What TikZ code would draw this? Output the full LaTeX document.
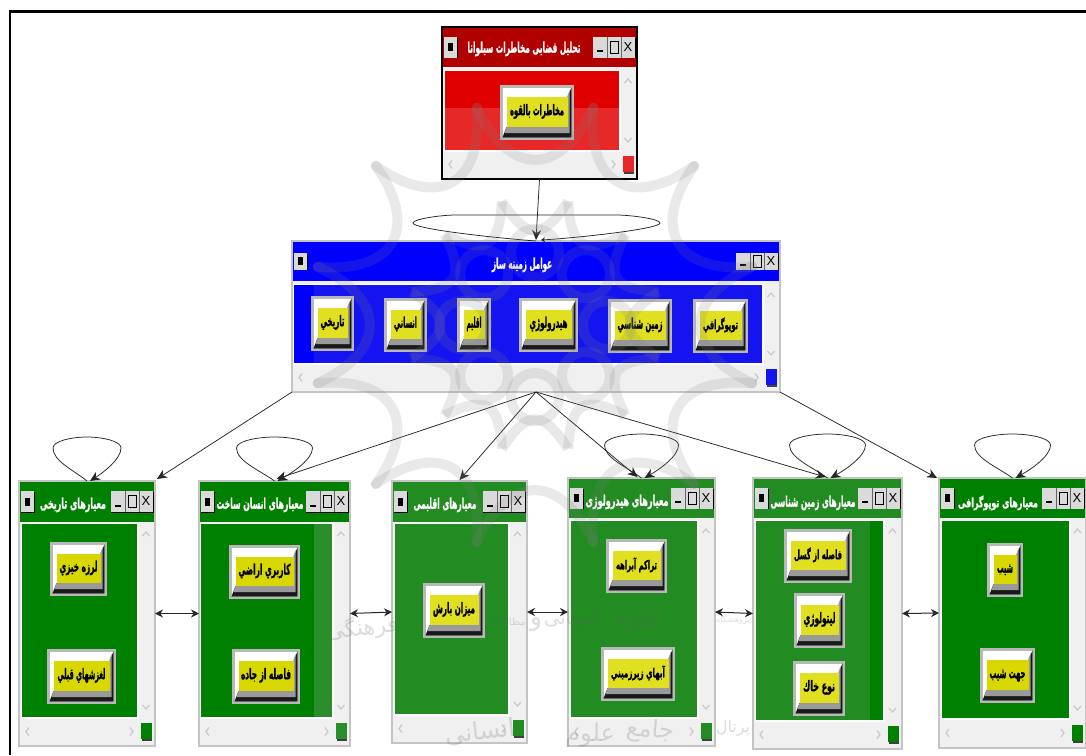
\documentclass[tikz,border=0pt]{standalone}
\usepackage{fontspec}
\usepackage{graphicx}
\usetikzlibrary{arrows.meta,calc}
\TeXXeTstate=1
\newfontfamily\arabicfont[Script=Arabic]{DejaVu Sans}
\newfontfamily\arabicheavy[Script=Arabic,FakeBold=1.6]{DejaVu Sans Bold}
\setsansfont{Liberation Sans}
\definecolor{winbg}{HTML}{F0F0F0}
\definecolor{winedge}{HTML}{C4C4C4}
\definecolor{tbtn}{HTML}{DADADA}
\definecolor{chev}{HTML}{C8C8C8}
\definecolor{gdark}{HTML}{008000}
\definecolor{glight}{HTML}{228B22}
\definecolor{gmid}{HTML}{2A8E2A}
\definecolor{rdark}{HTML}{B00000}
\definecolor{rmain}{HTML}{E00000}
\definecolor{rlight}{HTML}{E62828}
\definecolor{bmain}{HTML}{0000FF}
\definecolor{bsoft}{HTML}{1414F0}
\definecolor{ypure}{HTML}{D8D800}
\definecolor{ysoft}{HTML}{E0E020}
\definecolor{btnedge}{HTML}{B8B8B8}
\definecolor{btnband}{HTML}{9A9A9A}
\newcount\nodeno
\newcommand\bump{\global\advance\nodeno by 1 }
\newcommand\fatext[4][black]{\resizebox*{#2pt}{#3pt}{\color{#1}\arabicheavy\rule[-.26em]{0pt}{1.02em}#4}}
% window frame: name x0 y0 x1 y1 edgecolour
\newcommand\winframe[6]{%
  \def\xa{#2}\def\ya{#3}\def\xb{#4}\def\yb{#5}%
  \pgfmathsetmacro\cxx{(#2+#4)/2}\pgfmathsetmacro\cyy{(#3+#5)/2}%
  \pgfmathsetmacro\www{#4-#2}\pgfmathsetmacro\hhh{#5-#3}%
  \node[winnode,draw=#6,minimum width=\www pt,minimum height=\hhh pt] (#1) at (\cxx,\cyy) {};}
% title bar: bottom colour button-height
\newcommand\wintitle[3]{%
  \fill[#2] (\xa+.7,\ya+.7) rectangle (\xb-.7,#1);
  \pgfmathsetmacro\ymid{(\ya+#1)/2}%
  \pgfmathsetmacro\ytop{\ymid-#3/2}\pgfmathsetmacro\ybot{\ymid+#3/2}%
  \pgfmathsetmacro\lr{\xa+15}\pgfmathsetmacro\rl{\xb-44}%
  \fill[black] (\xa+1.5,\ytop+1) rectangle (\lr+.7,\ybot+.7);
  \fill[tbtn] (\xa+1.5,\ytop) rectangle (\lr,\ybot);
  \fill[black] (\xa+5.5,\ymid-4) rectangle (\xa+11,\ymid+4);
  \fill[black] (\rl,\ytop+1) rectangle (\xb-1.3,\ybot+.7);
  \fill[tbtn] (\rl,\ytop) rectangle (\xb-2,\ybot);
  \draw[black!60,line width=.5pt] (\rl+14,\ytop) -- (\rl+14,\ybot) (\rl+28,\ytop) -- (\rl+28,\ybot);
  \fill[black] (\rl+4,\ymid+3) rectangle (\rl+10,\ymid+5);
  \draw[black,line width=1pt] (\rl+17.5,\ymid-6) rectangle (\rl+25,\ymid+6);
  \bump\node[xtag] (t\the\nodeno) at (\rl+35,\ymid) {X};}
% content: x0 y0 x1 y1 colour status-colour
\newcommand\wincontent[6]{%
  \fill[white] (#1-1.5,#2-1.5) rectangle (#3+1.5,#4+1.5);
  \fill[#5] (#1,#2) rectangle (#3,#4);
  \pgfmathsetmacro\sx{(#3+\xb)/2}\pgfmathsetmacro\sy{(#4+\yb)/2}%
  \draw[chevline] (\sx-3.5,#2+12) -- (\sx,#2+8) -- (\sx+3.5,#2+12);
  \draw[chevline] (\sx-3.5,#4-12) -- (\sx,#4-8) -- (\sx+3.5,#4-12);
  \draw[chevline] (\xa+10,\sy-4) -- (\xa+7,\sy) -- (\xa+10,\sy+4);
  \draw[chevline] (\xb-25,\sy-4) -- (\xb-22,\sy) -- (\xb-25,\sy+4);
  \fill[black!75] (\xb-13.3,\yb-22.3) rectangle (\xb-2.6,\yb-5.5);
  \fill[#6] (\xb-14,\yb-23) rectangle (\xb-3.5,\yb-7);}
\newcommand\wincaption[4]{\bump\node[txt] (t\the\nodeno) at (#1,#2) {\fatext[white]{#3}{15}{#4}};}
% push button: x0 y0 x1 y1 text-width text
\newcommand\pushbtn[6]{%
  \fill[btnedge] (#1,#2) rectangle (#3,#4);
  \fill[white] (#1+2.5,#2+2.5) rectangle (#3-2.5,#4-2.5);
  \fill[black!90] (#3-2.5,#2+2.5) -- (#3-2.5,#4-2.5) -- (#1+2.5,#4-2.5) -- (#1+6.5,#4-13) -- (#3-6.5,#4-13) -- (#3-6.5,#2+11.5) -- cycle;
  \fill[btnband] (#3-4.5,#2+5) -- (#3-4.5,#4-7) -- (#1+4.5,#4-7) -- (#1+6.5,#4-13) -- (#3-6.5,#4-13) -- (#3-6.5,#2+11.5) -- cycle;
  \fill[\btncol] (#1+6.5,#2+11.5) rectangle (#3-6.5,#4-13);
  \bump\node[txt] (t\the\nodeno) at ({(#1+#3)/2},{(#2+#4)/2-1}) {\fatext{#5}{15}{#6}};}
\newcommand\selfloop[2]{%
  \draw[conn,-{Stealth[length=10pt,width=9pt]}] (#1.north)
    .. controls ($(#1.north)+(-.4*#2,-11)$) and ($(#1.north)+(-#2,-20)$) .. ($(#1.north)+(-#2,-33)$)
    .. controls ($(#1.north)+(-#2,-40)$) and ($(#1.north)+(-.45*#2,-44)$) .. ($(#1.north)+(0,-44)$)
    .. controls ($(#1.north)+(.45*#2,-44)$) and ($(#1.north)+(#2,-40)$) .. ($(#1.north)+(#2,-33)$)
    .. controls ($(#1.north)+(#2,-22)$) and ($(#1.north)+(.5*#2,-9)$) .. ($(#1.north)+(3,0)$);}
% watermark word: size rotation x y width text
\newcommand\wmark[6]{\bump\node[wmword,rotate=#2] (t\the\nodeno) at (#3,#4) {\resizebox{#5pt}{!}{\color{black!60}\arabicfont\fontsize{#1}{#1}\selectfont #6}};}
\tikzset{
  winnode/.style={rectangle,fill=winbg,line width=1.4pt,inner sep=0pt,outer sep=0pt},
  txt/.style={inner sep=0pt,outer sep=0pt},
  xtag/.style={inner sep=0pt,font=\sffamily\fontsize{13}{13}\selectfont},
  chevline/.style={chev,line width=1.2pt},
  conn/.style={black!85,line width=.75pt},
  arr/.style={conn,-{Stealth[length=10pt,width=9pt]}},
  both/.style={conn,line width=1pt,{Stealth[length=8pt,width=8pt]}-{Stealth[length=8pt,width=8pt]}},
  wmline/.style={black!50,line width=10pt,opacity=.17},
  wmword/.style={inner sep=0pt,opacity=.22}
}
\begin{document}
\begin{tikzpicture}[x=1pt,y=-1pt]
\useasboundingbox (0,0) rectangle (1086,755);
\fill[white] (0,0) rectangle (1086,755);
\fill[black] (8.5,10) rectangle (1086,12.5);
\fill[black] (8.5,10) rectangle (10.8,755);

% top window
\winframe{top}{442}{27}{637}{179}{black}
\wintitle{67}{rdark}{21}
\wincontent{445}{71}{619}{150}{rmain}{rlight}
\fill[rlight] (445,108) rectangle (619,150);
\def\btncol{ysoft}
\pushbtn{500}{85}{574}{140}{54}{\beginR مخاطرات بالقوه\endR}
\wincaption{524}{49}{113}{\beginR تحلیل فضایی مخاطرات سیلوانا\endR}

% middle window
\winframe{mid}{292}{241}{780}{392}{winedge}
\wintitle{281}{bmain}{17}
\wincontent{294}{285}{762}{363}{bmain}{bsoft}
\fill[bsoft] (314,285) rectangle (762,363);
\pushbtn{693}{299}{748}{353}{35}{\beginR توپوگرافي\endR}
\pushbtn{608}{299}{672}{353}{45}{\beginR زمين شناسي\endR}
\pushbtn{519}{298}{578}{352}{38}{\beginR هيدرولوژي\endR}
\pushbtn{457}{298}{491}{352}{15}{\beginR اقليم\endR}
\pushbtn{384}{298}{427}{352}{23}{\beginR انساني\endR}
\pushbtn{311}{296}{354}{351}{24}{\beginR تاريخي\endR}
\wincaption{522}{265}{60}{\beginR عوامل زمینه ساز\endR}

% criteria windows
\def\btncol{ypure}
\winframe{wa}{19}{481}{155}{746}{winedge}
\wintitle{522}{gdark}{21}
\wincontent{22}{524}{137}{717}{gdark}{gdark}
\pushbtn{50}{542}{107}{596}{38}{\beginR لرزه خيزي\endR}
\pushbtn{47}{649}{116}{704}{48}{\beginR لغزشهاي قبلي\endR}
\wincaption{73}{505}{66}{\beginR معیارهای تاریخی\endR}

\winframe{wb}{199}{481}{350}{746}{winedge}
\wintitle{522}{gdark}{21}
\wincontent{201}{524}{332}{717}{gdark}{gmid}
\fill[gmid] (314,524) rectangle (332,717);
\pushbtn{229}{545}{300}{599}{52}{\beginR كاربري اراضي\endR}
\pushbtn{232}{649}{300}{704}{50}{\beginR فاصله از جاده\endR}
\wincaption{260}{505}{87}{\beginR معیارهای انسان ساخت\endR}

\def\btncol{ysoft}
\winframe{wc}{392}{481}{527}{743}{winedge}
\wintitle{522}{glight}{21}
\wincontent{395}{524}{508}{714}{glight}{glight}
\pushbtn{423}{583}{485}{638}{42}{\beginR ميزان بارش\endR}
\wincaption{445}{505}{63}{\beginR معیارهای اقلیمی\endR}

\winframe{wd}{568}{478}{715}{746}{winedge}
\wintitle{518}{glight}{21}
\wincontent{571}{521}{697}{717}{glight}{glight}
\pushbtn{606}{539}{667}{593}{41}{\beginR تراكم آبراهه\endR}
\pushbtn{601}{647}{675}{701}{54}{\beginR آبهاي زيرزميني\endR}
\wincaption{627}{502}{83}{\beginR معیارهای هیدرولوژی\endR}

\winframe{we}{753}{478}{902}{749}{winedge}
\wintitle{518}{glight}{21}
\wincontent{756}{521}{883}{720}{glight}{gdark}
\fill[gdark] (870,521) rectangle (883,720);
\pushbtn{784}{529}{852}{583}{48}{\beginR فاصله از گسل\endR}
\pushbtn{794}{593}{845}{648}{32}{\beginR ليتولوژي\endR}
\pushbtn{793}{661}{845}{716}{32}{\beginR نوع خاك\endR}
\wincaption{813}{503}{85}{\beginR معیارهای زمین شناسی\endR}

\def\btncol{ypure}
\winframe{wf}{939}{478}{1086}{748}{winedge}
\wintitle{518}{gdark}{21}
\wincontent{942}{521}{1069}{718}{gdark}{gdark}
\pushbtn{987}{543}{1023}{597}{16}{\beginR شيب\endR}
\pushbtn{980}{648}{1035}{703}{36}{\beginR جهت شيب\endR}
\wincaption{998}{503}{80}{\beginR معیارهای توپوگرافی\endR}

% connectors
\draw[arr] (top.south) -- ($(mid.north)+(0,-1)$);
\draw[conn,-{Stealth[length=4pt,width=5pt]}] (mid.north)
  .. controls ($(mid.north)+(-40,-3)$) and ($(mid.north)+(-123,-12)$) .. ($(mid.north)+(-123,-18)$)
  .. controls ($(mid.north)+(-123,-22)$) and ($(mid.north)+(-95,-26)$) .. ($(mid.north)+(-80,-26)$)
  -- ($(mid.north)+(80,-26)$)
  .. controls ($(mid.north)+(95,-26)$) and ($(mid.north)+(124,-22)$) .. ($(mid.north)+(124,-18)$)
  .. controls ($(mid.north)+(124,-12)$) and ($(mid.north)+(40,-3)$) .. ($(mid.north)+(5,-1)$);
\draw[arr] (mid.south west) -- ($(wa.north east)+(2,-2)$);
\draw[arr] (mid.south) -- ($(wb.north)+(2,-2)$);
\draw[arr] (mid.south) -- ($(wc.north)+(0,-1)$);
\draw[arr] (mid.south) -- ($(wd.north)+(-4,-1)$);
\draw[arr] (mid.south) -- ($(we.north)+(-2,-1)$);
\draw[arr] (mid.south east) -- ($(wf.north west)+(-2,0)$);
\selfloop{wa}{34}
\selfloop{wb}{38}
\selfloop{wd}{37}
\selfloop{we}{38}
\selfloop{wf}{38}
\draw[both] (wa.east) -- (wb.west);
\draw[both] (wb.east) -- (wc.west);
\draw[both] (wc.east) -- (wd.west);
\draw[both] (wd.east) -- (we.west);
\draw[both] (we.east) -- (wf.west);

% watermark
\begin{scope}[shift={(535,325)}]
\foreach \a in {0,30,...,330}{
  \draw[wmline,line cap=round] (\a+15:225) .. controls (\a+10:150) and (\a-10:150) .. (\a-15:225);
  \draw[wmline] (\a+15:128) .. controls (\a+5:85) and (\a-5:85) .. (\a-15:128);
}
\foreach \a in {0,45,...,315}{
  \draw[wmline] (\a:72) circle (24);
}
\end{scope}
\wmark{26}{0}{733}{620}{34}{\beginR پژوهشگاه\endR}
\wmark{26}{-3}{638}{620}{50}{\beginR علوم\endR}
\wmark{26}{0}{572}{618}{56}{\beginR انسانی\endR}
\wmark{26}{0}{536}{625}{12}{\beginR و\endR}
\wmark{26}{0}{507}{622}{38}{\beginR مطالعات\endR}
\wmark{26}{6}{362}{628}{72}{\beginR فرهنگی\endR}
\wmark{26}{0}{733}{728}{34}{\beginR پرتال\endR}
\wmark{26}{-5}{650}{731}{48}{\beginR جامع\endR}
\wmark{26}{0}{590}{735}{50}{\beginR علوم\endR}
\wmark{26}{6}{480}{732}{70}{\beginR انسانی\endR}
\end{tikzpicture}
\end{document}
